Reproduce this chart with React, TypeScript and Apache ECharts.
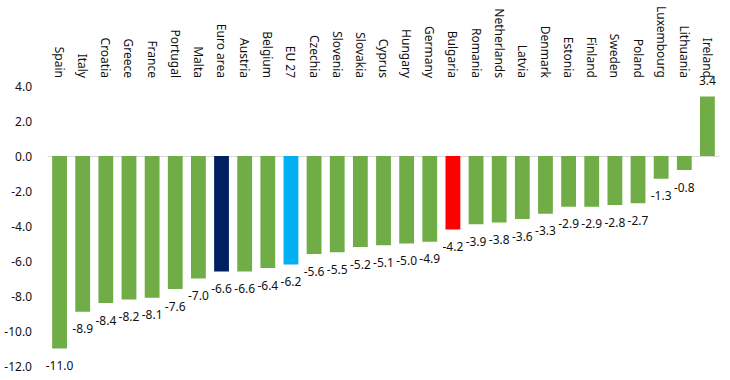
import React, { useEffect, useRef } from "react";
import * as echarts from "echarts";

const categories = [
  "Spain", "Italy", "Croatia", "Greece", "France", "Portugal", "Malta", "Euro area",
  "Austria", "Belgium", "EU 27", "Czechia", "Slovenia", "Slovakia", "Cyprus", "Hungary",
  "Germany", "Bulgaria", "Romania", "Netherlands", "Latvia", "Denmark", "Estonia",
  "Finland", "Sweden", "Poland", "Luxembourg", "Lithuania", "Ireland",
];
const values = [
  -11.0, -8.9, -8.4, -8.2, -8.1, -7.6, -7.0, -6.6, -6.6, -6.4, -6.2, -5.6, -5.5, -5.2,
  -5.1, -5.0, -4.9, -4.2, -3.9, -3.8, -3.6, -3.3, -2.9, -2.9, -2.8, -2.7, -1.3, -0.8, 3.4,
];
const highlight: Record<string, string> = {
  "Euro area": "#002060",
  "EU 27": "#00b0f0",
  Bulgaria: "#ff0000",
};
const baseColor = "#70ad47";
const font = "Noto Sans";

export default function App() {
  const ref = useRef<HTMLDivElement>(null);
  useEffect(() => {
    if (!ref.current) return;
    const chart = echarts.init(ref.current, null, { renderer: "svg" });
    chart.setOption({
      animation: false,
      grid: { left: 48, right: 11, top: 86, bottom: 14, containLabel: false },
      xAxis: [
        {
          type: "category",
          data: categories,
          position: "bottom",
          axisLine: { onZero: true, lineStyle: { color: "#d9d9d9", width: 1 } },
          axisTick: { show: false },
          axisLabel: { show: false },
        },
        {
          type: "category",
          data: categories,
          position: "top",
          axisLine: { show: false },
          axisTick: { show: false },
          axisLabel: {
            rotate: 90,
            margin: 8,
            interval: 0,
            color: "#111",
            fontSize: 12,
            fontFamily: font,
          },
        },
      ],
      yAxis: {
        type: "value",
        min: -12,
        max: 4,
        interval: 2,
        splitLine: { show: false },
        axisLine: { show: false },
        axisTick: { show: false },
        axisLabel: {
          formatter: (v: number) => v.toFixed(1),
          color: "#111",
          fontSize: 12,
          fontFamily: font,
          margin: 16,
        },
      },
      series: [
        {
          type: "bar",
          xAxisIndex: 0,
          barWidth: "64%",
          data: values.map((v, i) => ({
            value: v,
            itemStyle: { color: highlight[categories[i]] || baseColor },
            label: { position: v < 0 ? "bottom" : "top", distance: v < 0 ? 11 : 10 },
          })),
          label: {
            show: true,
            formatter: (p: any) => Number(p.value).toFixed(1),
            color: "#111",
            fontSize: 12,
            fontFamily: font,
          },
        },
      ],
    });
    return () => chart.dispose();
  }, []);
  return (
    <div
      ref={ref}
      style={{ position: "fixed", left: 0, top: 0, width: 730, height: 380, background: "#fff" }}
    />
  );
}
